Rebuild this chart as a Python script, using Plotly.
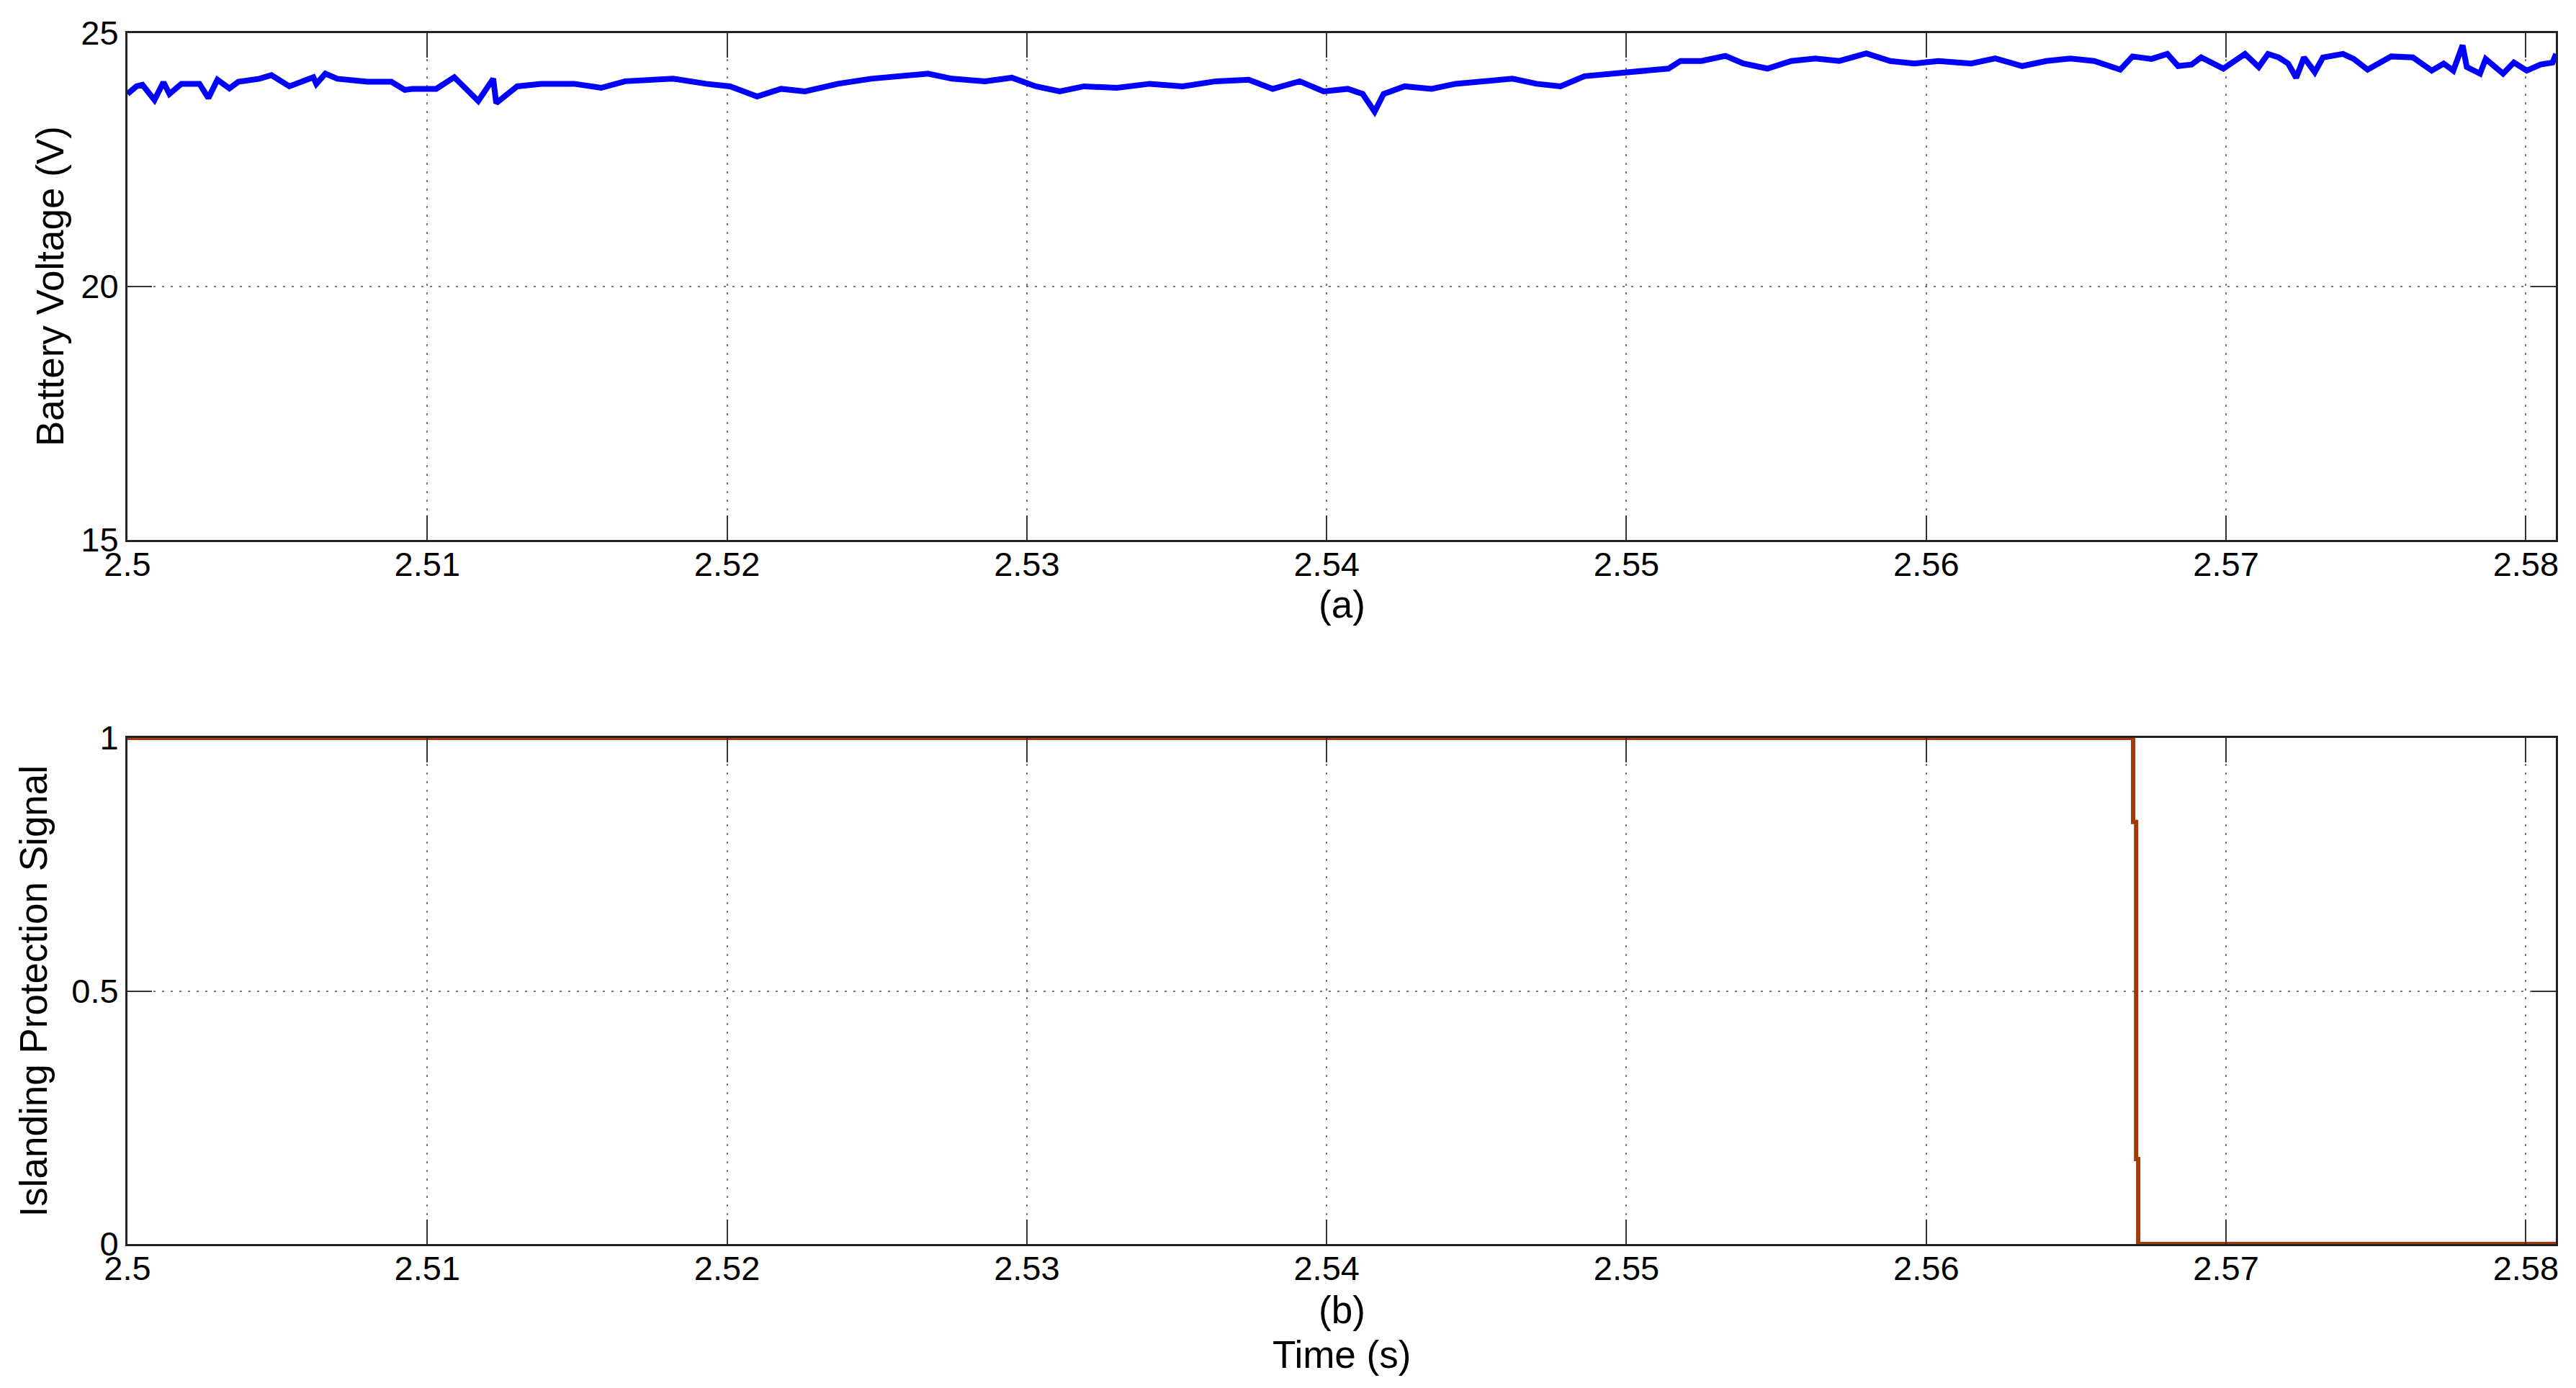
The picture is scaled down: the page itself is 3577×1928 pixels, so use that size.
import plotly.graph_objects as go

# ---------------- data ----------------
volt_time = [
    2.5000, 2.5003, 2.5005, 2.5009, 2.5012, 2.5014, 2.5018, 2.5024, 2.5027, 2.5030,
    2.5034, 2.5037, 2.5044, 2.5048, 2.5054, 2.5058, 2.5062, 2.5063, 2.5066, 2.5070,
    2.5080, 2.5088, 2.50925, 2.5095, 2.5103, 2.5109, 2.5117, 2.5122, 2.5123, 2.5130,
    2.5138, 2.5149, 2.5158, 2.5166, 2.5182, 2.5193, 2.5201, 2.5210, 2.5218, 2.5226,
    2.5237, 2.5248, 2.5259, 2.5267, 2.5275, 2.5286, 2.5295, 2.5303, 2.5311, 2.5319,
    2.5330, 2.5341, 2.5352, 2.5363, 2.5374, 2.5382, 2.5391, 2.5399, 2.5407, 2.5412,
    2.5416, 2.5419, 2.5426, 2.5435, 2.5443, 2.5451, 2.5462, 2.5470, 2.5478, 2.5486,
    2.5497, 2.5506, 2.5514, 2.5518, 2.5525, 2.5533, 2.5539, 2.5547, 2.5555, 2.5563,
    2.5571, 2.5580, 2.5588, 2.5596, 2.5604, 2.5615, 2.5623, 2.5632, 2.5640, 2.5648,
    2.5656, 2.56647, 2.56688, 2.56751, 2.56804, 2.5684, 2.56885, 2.56917, 2.56991, 2.57063,
    2.57109, 2.5714, 2.57176, 2.57207, 2.57234, 2.5726, 2.57296, 2.57323, 2.5739, 2.57426,
    2.57472, 2.57551, 2.57623, 2.57686, 2.57726, 2.57758, 2.57789, 2.57803, 2.57847, 2.57866,
    2.57924, 2.5796, 2.58003, 2.58049, 2.58089, 2.58101,
]
volt_values = [
    23.80, 23.95, 23.98, 23.68, 24.03, 23.80, 24.00, 24.00, 23.72, 24.08,
    23.91, 24.04, 24.10, 24.17, 23.95, 24.04, 24.13, 24.00, 24.20, 24.10,
    24.04, 24.04, 23.88, 23.90, 23.90, 24.13, 23.66, 24.10, 23.62, 23.95,
    24.00, 24.00, 23.92, 24.05, 24.10, 24.00, 23.95, 23.75, 23.90, 23.85,
    24.00, 24.10, 24.15, 24.20, 24.10, 24.05, 24.12, 23.95, 23.85, 23.95,
    23.92, 24.00, 23.95, 24.05, 24.08, 23.90, 24.05, 23.85, 23.90, 23.80,
    23.45, 23.80, 23.95, 23.90, 24.00, 24.05, 24.10, 24.00, 23.95, 24.15,
    24.20, 24.25, 24.30, 24.45, 24.45, 24.55, 24.40, 24.30, 24.45, 24.50,
    24.45, 24.60, 24.45, 24.40, 24.45, 24.40, 24.50, 24.35, 24.45, 24.50,
    24.45, 24.28, 24.54, 24.49, 24.59, 24.35, 24.38, 24.52, 24.30, 24.59,
    24.33, 24.59, 24.52, 24.40, 24.12, 24.52, 24.23, 24.52, 24.59, 24.49,
    24.28, 24.54, 24.52, 24.26, 24.40, 24.26, 24.76, 24.33, 24.20, 24.49,
    24.20, 24.42, 24.26, 24.38, 24.42, 24.59,
]

signal_time = [2.5, 2.56690, 2.56690, 2.56700, 2.56700, 2.56707, 2.56707, 2.581]
signal_values = [1, 1, 0.834, 0.834, 0.168, 0.168, 0, 0]

x_ticks = [2.5, 2.51, 2.52, 2.53, 2.54, 2.55, 2.56, 2.57, 2.58]
x_tick_labels = ["2.5", "2.51", "2.52", "2.53", "2.54", "2.55", "2.56", "2.57", "2.58"]
y1_ticks = [15, 20, 25]
y2_ticks = [0, 0.5, 1]
y2_tick_labels = ["0", "0.5", "1"]

# ---------------- figure ----------------
FONT = "Liberation Sans, Arial, Helvetica, sans-serif"
TICK_FONT = dict(family=FONT, size=47, color="black")
TITLE_FONT = dict(family=FONT, size=53, color="black")

fig = go.Figure()
fig.add_trace(go.Scatter(x=volt_time, y=volt_values, mode="lines",
                         line=dict(color="#0000FF", width=8), xaxis="x", yaxis="y",
                         showlegend=False, hoverinfo="skip"))
fig.add_trace(go.Scatter(x=signal_time, y=signal_values, mode="lines",
                         line=dict(color="#A33A0C", width=6), xaxis="x2", yaxis="y2",
                         showlegend=False, hoverinfo="skip"))

axis_common = dict(
    showline=True, linecolor="#222222", linewidth=3, mirror="ticks",
    ticks="inside", ticklen=34, tickwidth=2, tickcolor="#333333",
    showgrid=True, gridcolor="#777777", gridwidth=2, griddash="3px,9px",
    zeroline=False, tickfont=TICK_FONT,
)

# the page body has an 8px margin: shrink the figure and shift it to compensate
fig.update_layout(
    width=3561, height=1912,
    paper_bgcolor="white", plot_bgcolor="white",
    margin=dict(l=169, r=20, t=38, b=192),
    xaxis=dict(axis_common, domain=[0, 1], range=[2.5, 2.581], anchor="y",
               tickvals=x_ticks, ticktext=x_tick_labels, ticklabelstandoff=-9),
    yaxis=dict(axis_common, domain=[0.58145, 1], range=[15, 25], anchor="x",
               tickvals=y1_ticks),
    xaxis2=dict(axis_common, domain=[0, 1], range=[2.5, 2.581], anchor="y2",
                tickvals=x_ticks, ticktext=x_tick_labels, ticklabelstandoff=-9),
    yaxis2=dict(axis_common, domain=[0, 0.41795], range=[0, 1], anchor="x2",
                tickvals=y2_ticks, ticktext=y2_tick_labels),
)

annotations = [
    dict(text="Battery Voltage (V)", x=0, y=0.7907, xref="paper", yref="paper",
         xanchor="center", yanchor="middle", textangle=-90, xshift=-108,
         showarrow=False, font=TITLE_FONT),
    dict(text="Islanding Protection Signal", x=0, y=0.209, xref="paper", yref="paper",
         xanchor="center", yanchor="middle", textangle=-90, xshift=-131,
         showarrow=False, font=TITLE_FONT),
    dict(text="(a)", x=0.5, y=0.5280, xref="paper", yref="paper",
         xanchor="center", yanchor="middle", showarrow=False, font=TITLE_FONT),
    dict(text="(b)", x=0.5, y=-0.0545, xref="paper", yref="paper",
         xanchor="center", yanchor="middle", showarrow=False, font=TITLE_FONT),
    dict(text="Time (s)", x=0.5, y=-0.0913, xref="paper", yref="paper",
         xanchor="center", yanchor="middle", showarrow=False, font=TITLE_FONT),
]
fig.update_layout(annotations=annotations)

fig.write_html("out.html")
